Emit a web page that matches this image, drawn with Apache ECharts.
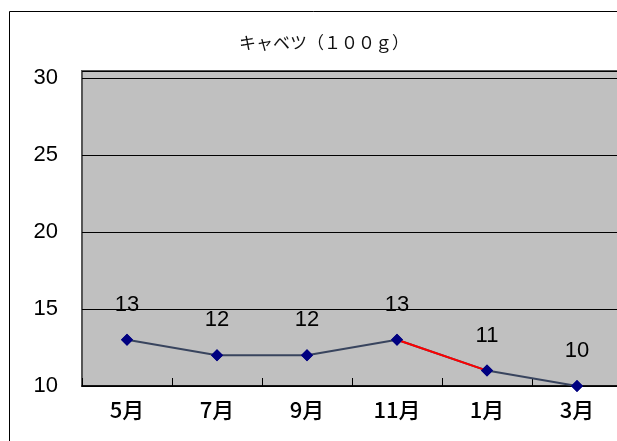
<!DOCTYPE html>
<html><head><meta charset="utf-8">
<script src="https://cdn.jsdelivr.net/npm/echarts@6/dist/echarts.min.js"></script>
<style>html,body{margin:0;padding:0;background:#fff}#c{width:617px;height:441px}</style>
</head><body><div id="c"></div>
<script>
const titleText = 'キャベツ（１００ｇ）';
const categories = ['5月','7月','9月','11月','1月','3月'];
const values = [13, 12, 12, 13, 11, 10];
const redSegment = [3, 4];
const yTicks = [10, 15, 20, 25, 30];

const chart = echarts.init(document.getElementById('c'), null, {renderer:'canvas'});
const redData = values.map((v,i)=> redSegment.includes(i) ? v : '-');
chart.setOption({
  backgroundColor:'#fff',
  animation:false,
  title:{text:titleText,left:319,top:29,textAlign:'center',
    textStyle:{fontFamily:'"Noto Sans CJK JP"',fontSize:17,fontWeight:'normal',color:'#111'}},
  graphic:[{type:'rect',shape:{x:9.5,y:11.5,width:700,height:500},style:{fill:null,stroke:'#000',lineWidth:1},silent:true}],
  grid:{left:82,width:540,top:71,bottom:55,outerBoundsMode:'none',containLabel:false,
    backgroundColor:'#c0c0c0',show:true,borderColor:'#555',borderWidth:2},
  xAxis:{type:'category',data:categories,boundaryGap:true,
    axisLine:{lineStyle:{color:'#000',width:1.5}},
    axisTick:{show:true,inside:true,length:8,lineStyle:{color:'#000'}},
    axisLabel:{fontFamily:'"Noto Sans CJK JP"',fontSize:22,fontWeight:500,color:'#000',margin:13}},
  yAxis:{type:'value',min:yTicks[0],max:30.45,interval:5,
    axisLine:{show:false},axisTick:{show:false},
    splitLine:{lineStyle:{color:'#000',width:1}},
    axisLabel:{fontFamily:'"Liberation Sans"',fontSize:22,color:'#000',margin:24,
      formatter:v=> yTicks.includes(v)? String(v):''}},
  series:[
    {type:'line',data:redData,symbol:'none',lineStyle:{color:'#ff0000',width:2},z:3,silent:true},
    {type:'line',data:values,symbol:'diamond',symbolSize:12,
      itemStyle:{color:'#000080'},
      lineStyle:{color:'#38445e',width:2},z:2,
      label:{show:true,position:'top',distance:18,fontFamily:'"Liberation Sans"',fontSize:22,color:'#000'}},
    {type:'line',data:values,symbol:'diamond',symbolSize:12,itemStyle:{color:'#000080'},lineStyle:{width:0,opacity:0},z:4,silent:true}
  ]
});
</script></body></html>
